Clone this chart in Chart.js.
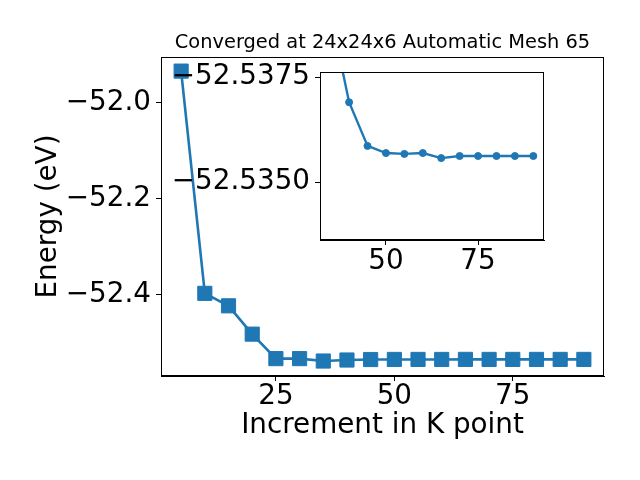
<!DOCTYPE html>
<html>
<head>
<meta charset="utf-8">
<script src="https://cdn.jsdelivr.net/npm/chart.js@4"></script>
<style>
    body { margin: 0; background: #ffffff; }
    #wrap { position: relative; width: 640px; height: 480px; }
    #wrap canvas { position: absolute; left: 0; top: 0; }
</style>
</head>
<body>
<div id="wrap">
    <canvas id="main-chart" width="640" height="480"></canvas>
    <canvas id="inset-chart" width="640" height="480"></canvas>
</div>
<script>
// K point increments and total energies (eV)
const kPoints = [5, 10, 15, 20, 25, 30, 35, 40, 45, 50, 55, 60, 65, 70, 75, 80, 85, 90];
const energies = [-51.935, -52.398, -52.424, -52.483, -52.534, -52.534, -52.539, -52.5369,
    -52.53586, -52.53569, -52.53567, -52.53569, -52.53557, -52.53562, -52.53562, -52.53562,
    -52.53562, -52.53562];

// inset zooms in on the converged tail (from 35 onwards)
const insetStart = 6;
const insetK = kPoints.slice(insetStart);
const insetEnergies = energies.slice(insetStart);

// tick labels
const mainXTicks = [25, 50, 75];
const mainYTicks = [-52.0, -52.2, -52.4];
const insetXTicks = [50, 75];
const insetYTicks = [-52.5375, -52.5350];

const titleText = 'Converged at 24x24x6 Automatic Mesh 65';
const xLabel = 'Increment in K point';
const yLabel = 'Energy (eV)';

const blue = '#1f77b4';
const fontFamily = '"DejaVu Sans", sans-serif';
Chart.defaults.font.family = fontFamily;
Chart.defaults.color = '#000000';

// matplotlib style minus sign
function fmt(v, digits) {
    const s = Math.abs(v).toFixed(digits);
    return v < 0 ? '\u2212' + s : s;
}

function toPoints(xs, ys) {
    return xs.map((x, i) => ({ x: x, y: ys[i] }));
}

// axis frame + white face
const framePlugin = {
    id: 'frame',
    beforeDraw(chart, args, opts) {
        if (!opts.fill) return;
        const a = chart.chartArea;
        const ctx = chart.ctx;
        ctx.save();
        ctx.fillStyle = '#ffffff';
        ctx.fillRect(a.left, a.top, a.right - a.left, a.bottom - a.top);
        ctx.restore();
    },
    afterDraw(chart) {
        const a = chart.chartArea;
        const ctx = chart.ctx;
        ctx.save();
        ctx.strokeStyle = '#000000';
        ctx.lineWidth = 1;
        ctx.strokeRect(Math.round(a.left) + 0.5, Math.round(a.top) + 0.5,
            Math.round(a.right - a.left) - 1, Math.round(a.bottom - a.top) - 1);
        ctx.restore();
    }
};

// title and axis labels of the main axes
const labelsPlugin = {
    id: 'labels',
    afterDraw(chart) {
        const a = chart.chartArea;
        const ctx = chart.ctx;
        const cx = (a.left + a.right) / 2;
        ctx.save();
        ctx.fillStyle = '#000000';
        ctx.textAlign = 'center';
        ctx.textBaseline = 'alphabetic';
        ctx.font = '19.4px ' + fontFamily;
        ctx.fillText(titleText, cx, 48);
        ctx.font = '27.8px ' + fontFamily;
        ctx.fillText(xLabel, cx, 433);
        ctx.translate(56, (a.top + a.bottom) / 2);
        ctx.rotate(-Math.PI / 2);
        ctx.fillText(yLabel, 0, 0);
        ctx.restore();
    }
};

function axisOpts(extra) {
    return Object.assign({
        type: 'linear',
        grid: { display: true, drawOnChartArea: false, drawTicks: true, tickLength: 5, color: '#000000', lineWidth: 1 },
        border: { display: true, color: '#000000', width: 1 }
    }, extra);
}

// Main chart
new Chart(document.getElementById('main-chart').getContext('2d'), {
    type: 'line',
    data: {
        datasets: [{
            data: toPoints(kPoints, energies),
            borderColor: blue,
            backgroundColor: blue,
            borderWidth: 2.6,
            pointStyle: 'rect',
            pointRadius: 10,
            pointBorderWidth: 1,
            tension: 0
        }]
    },
    options: {
        responsive: false,
        animation: false,
        layout: { padding: { left: 0, top: 57, right: 36, bottom: 0 } },
        plugins: { legend: { display: false }, tooltip: { enabled: false }, frame: { fill: false } },
        scales: {
            x: axisOpts({
                min: 0.75, max: 94.25,
                afterBuildTicks: (axis) => { axis.ticks = mainXTicks.map(v => ({ value: v })); },
                afterFit: (axis) => { axis.height = 104; },
                ticks: { font: { size: 27.8, lineHeight: 1 }, padding: 2, maxRotation: 0, callback: (v) => fmt(v, 0) }
            }),
            y: axisOpts({
                min: -52.5702, max: -51.9056,
                afterBuildTicks: (axis) => { axis.ticks = mainYTicks.map(v => ({ value: v })); },
                afterFit: (axis) => { axis.width = 161; },
                ticks: { font: { size: 27.8 }, padding: 5, callback: (v) => fmt(v, 1) }
            })
        }
    },
    plugins: [framePlugin, labelsPlugin]
});

// Inset chart (y axis runs downward, as in the original)
new Chart(document.getElementById('inset-chart').getContext('2d'), {
    type: 'line',
    data: {
        datasets: [{
            data: toPoints(insetK, insetEnergies),
            borderColor: blue,
            backgroundColor: blue,
            borderWidth: 2.4,
            pointStyle: 'circle',
            pointRadius: 3.5,
            pointBorderWidth: 1,
            tension: 0,
            clip: 0
        }]
    },
    options: {
        responsive: false,
        animation: false,
        layout: { padding: { left: 0, top: 72, right: 96, bottom: 0 } },
        plugins: { legend: { display: false }, tooltip: { enabled: false }, frame: { fill: true } },
        scales: {
            x: axisOpts({
                min: 32.1, max: 92.9,
                afterBuildTicks: (axis) => { axis.ticks = insetXTicks.map(v => ({ value: v })); },
                afterFit: (axis) => { axis.height = 240; },
                ticks: { font: { size: 27.8, lineHeight: 1 }, padding: 2.5, maxRotation: 0, callback: (v) => fmt(v, 0) }
            }),
            y: axisOpts({
                reverse: true,
                min: -52.53762, max: -52.53362,
                afterBuildTicks: (axis) => { axis.ticks = insetYTicks.map(v => ({ value: v })); },
                afterFit: (axis) => { axis.width = 320; },
                ticks: { font: { size: 27.8 }, padding: 5, callback: (v) => fmt(v, 4) }
            })
        }
    },
    plugins: [framePlugin]
});
</script>
</body>
</html>
